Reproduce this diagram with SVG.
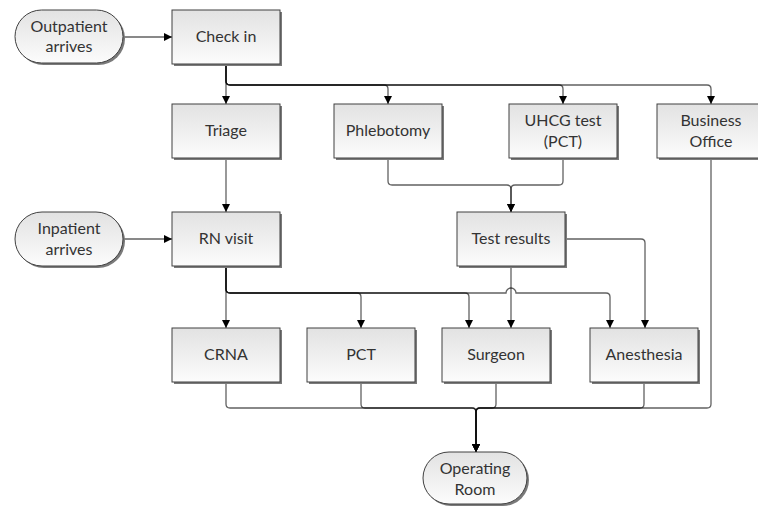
<svg xmlns="http://www.w3.org/2000/svg" width="758" height="508" viewBox="0 0 758 508">
<style>
.box{fill:url(#g);stroke:#404040;stroke-width:1}
.sh{fill:#7a7a7a}
.t{font-family:Lato,"Liberation Sans",sans-serif;font-size:16px;fill:#333;text-anchor:middle}
.c{fill:none;stroke:#000;stroke-opacity:0.62;stroke-width:1.3;marker-end:url(#a)}
.cn{fill:none;stroke:#000;stroke-opacity:0.62;stroke-width:1.3}
</style>
<defs>
<linearGradient id="g" x1="0" y1="0" x2="0" y2="1">
<stop offset="0" stop-color="#e2e2e2"/>
<stop offset="1" stop-color="#fcfcfc"/>
</linearGradient>
<marker id="a" markerUnits="userSpaceOnUse" markerWidth="10" markerHeight="10" refX="9" refY="5" orient="auto">
<path d="M1,1 L9,5 L1,9 z" fill="#000"/>
</marker>
</defs>
<rect width="758" height="508" fill="#fff"/>
<g id="connectors">
<path class="c" d="M123,37 H172"/>
<path class="c" d="M123,239 H172"/>
<path class="c" d="M226,64 V104"/>
<path class="c" d="M226,64 V81 q0,4 4,4 H384 q4,0 4,4 V104"/>
<path class="c" d="M226,64 V81 q0,4 4,4 H559 q4,0 4,4 V104"/>
<path class="c" d="M226,64 V81 q0,4 4,4 H707 q4,0 4,4 V104"/>
<path class="c" d="M226,158 V212"/>
<path class="c" d="M388,158 V181 q0,4 4,4 H507 q4,0 4,4 V212"/>
<path class="c" d="M563,158 V181 q0,4 -4,4 H515 q-4,0 -4,4 V212"/>
<path class="c" d="M226,266 V328"/>
<path class="c" d="M226,266 V289 q0,4 4,4 H357 q4,0 4,4 V328"/>
<path class="c" d="M226,266 V289 q0,4 4,4 H465 q4,0 4,4 V328"/>
<path class="c" d="M226,266 V289 q0,4 4,4 H506 a5,5 0 0 1 10,0 H606 q4,0 4,4 V328"/>
<path class="c" d="M511,266 V328"/>
<path class="c" d="M565,239 H641 q4,0 4,4 V328"/>
<path class="c" d="M226,382 V404 q0,4 4,4 H472 q4,0 4,4 V452"/>
<path class="c" d="M361,382 V404 q0,4 4,4 H472 q4,0 4,4 V452"/>
<path class="c" d="M496,382 V404 q0,4 -4,4 H480 q-4,0 -4,4 V452"/>
<path class="c" d="M644,382 V404 q0,4 -4,4 H480 q-4,0 -4,4 V452"/>
<path class="c" d="M711,158 V404 q0,4 -4,4 H480 q-4,0 -4,4 V452"/>
</g>
<g id="outpatient">
<rect class="sh" x="17" y="12" width="108" height="53" rx="26.5"/>
<rect class="box" x="15" y="10" width="108" height="53" rx="26.5"/>
<text class="t" x="69" y="32">Outpatient</text>
<text class="t" x="69" y="52">arrives</text>
</g>
<g id="checkin">
<rect class="sh" x="174" y="12" width="108" height="54"/>
<rect class="box" x="172" y="10" width="108" height="54"/>
<text class="t" x="226" y="42">Check in</text>
</g>
<g id="triage">
<rect class="sh" x="174" y="106" width="108" height="54"/>
<rect class="box" x="172" y="104" width="108" height="54"/>
<text class="t" x="226" y="136">Triage</text>
</g>
<g id="phlebotomy">
<rect class="sh" x="336" y="106" width="108" height="54"/>
<rect class="box" x="334" y="104" width="108" height="54"/>
<text class="t" x="388" y="136">Phlebotomy</text>
</g>
<g id="uhcg">
<rect class="sh" x="511" y="106" width="108" height="54"/>
<rect class="box" x="509" y="104" width="108" height="54"/>
<text class="t" x="563" y="126">UHCG test</text>
<text class="t" x="563" y="147">(PCT)</text>
</g>
<g id="business">
<rect class="sh" x="659" y="106" width="108" height="54"/>
<rect class="box" x="657" y="104" width="108" height="54"/>
<text class="t" x="711" y="126">Business</text>
<text class="t" x="711" y="147">Office</text>
</g>
<g id="inpatient">
<rect class="sh" x="17" y="214" width="108" height="54" rx="27"/>
<rect class="box" x="15" y="212" width="108" height="54" rx="27"/>
<text class="t" x="69" y="234">Inpatient</text>
<text class="t" x="69" y="255">arrives</text>
</g>
<g id="rnvisit">
<rect class="sh" x="174" y="214" width="108" height="54"/>
<rect class="box" x="172" y="212" width="108" height="54"/>
<text class="t" x="226" y="244">RN visit</text>
</g>
<g id="testresults">
<rect class="sh" x="459" y="214" width="108" height="54"/>
<rect class="box" x="457" y="212" width="108" height="54"/>
<text class="t" x="511" y="244">Test results</text>
</g>
<g id="crna">
<rect class="sh" x="174" y="330" width="108" height="54"/>
<rect class="box" x="172" y="328" width="108" height="54"/>
<text class="t" x="226" y="360">CRNA</text>
</g>
<g id="pct">
<rect class="sh" x="309" y="330" width="108" height="54"/>
<rect class="box" x="307" y="328" width="108" height="54"/>
<text class="t" x="361" y="360">PCT</text>
</g>
<g id="surgeon">
<rect class="sh" x="444" y="330" width="108" height="54"/>
<rect class="box" x="442" y="328" width="108" height="54"/>
<text class="t" x="496" y="360">Surgeon</text>
</g>
<g id="anesthesia">
<rect class="sh" x="592" y="330" width="108" height="54"/>
<rect class="box" x="590" y="328" width="108" height="54"/>
<text class="t" x="644" y="360">Anesthesia</text>
</g>
<g id="operating">
<rect class="sh" x="425" y="454" width="104" height="52" rx="26"/>
<rect class="box" x="423" y="452" width="104" height="52" rx="26"/>
<text class="t" x="475" y="474">Operating</text>
<text class="t" x="475" y="495">Room</text>
</g>
</svg>
